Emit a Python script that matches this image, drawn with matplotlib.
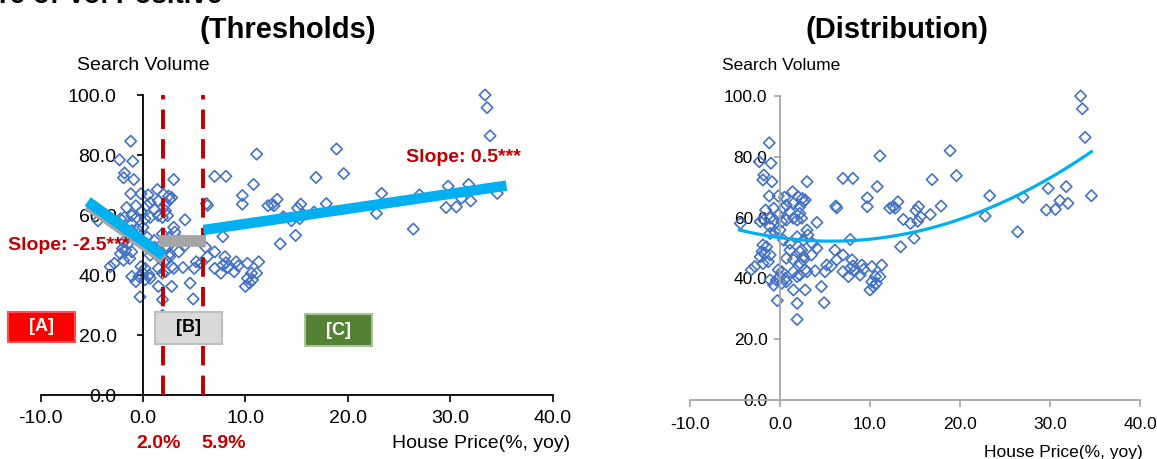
import numpy as np
import matplotlib
matplotlib.use("Agg")
import matplotlib.pyplot as plt
from matplotlib.patches import Rectangle

plt.rcParams['font.family'] = ['Liberation Sans', 'DejaVu Sans']

## Data ##

# house price growth (%, yoy) vs search volume
price = [33.4, 33.6, 33.9, 34.6, 31.8, 29.8, 31.1, 32.0, 30.6, 29.6, 27.0, 26.4, 23.3, 22.8,
         18.9, 19.6, 16.9, 17.9, 16.7, 15.4, 15.1, 15.6, 15.3, 14.5, 13.7, 13.1, 12.8, 12.6,
         14.9, 13.4,
         11.1, 7.0, 8.1, 3.0, 10.8, 9.7, 9.7, 6.2, 6.3, 12.2, 7.8, 4.1, 2.5, 2.6, 2.4, 3.0,
         3.1, 2.6, 3.6, 4.1, 2.4, 3.5, 2.6, 6.1, 7.0, 5.2, 5.7, 5.0, 3.9, 3.0, 6.3, 8.0, 8.1,
         7.8, 9.1, 9.3, 8.9, 10.2, 11.3, 10.6, 11.1, 10.2, 10.4, 10.0, 10.7, 7.6, 7.0, 8.3,
         4.6, 4.9,
         -1.2, -2.3, -1.0, -1.8, -1.9, -0.9, -1.2, -0.2, 0.5, 1.4, 2.0, 2.8, 0.7, 1.5, 2.2,
         -0.7, -1.6, -0.2, -1.1, -1.8, -2.2, -4.4, 0.4, 1.1, 0.7, 1.5, 2.2, 1.9, -0.6, 0.2,
         -1.1,
         -1.1, -0.6, 0.0, -1.9, -1.5, -2.0, -1.7, -2.2, -1.3, -1.9, -1.1, -2.8, -3.2, 0.4,
         1.1, 1.9, 1.1, 2.2, 0.7, 1.5, 2.6, 2.2, -0.2, 0.2, 0.0, 0.6, -0.4, 0.2, 0.7, -1.1,
         -0.7, 1.5, 1.9, 2.2, 2.8, 1.5, 2.8, 1.9, -0.3, 1.9]
search = [100.0, 95.8, 86.4, 67.2, 70.2, 69.6, 65.6, 64.7, 62.7, 62.5, 66.7, 55.3, 67.2, 60.5,
          82.0, 73.8, 72.5, 63.8, 61.0, 63.6, 62.3, 60.3, 58.8, 58.1, 59.4, 65.2, 63.1, 63.6,
          53.2, 50.4,
          80.3, 72.9, 72.9, 71.8, 70.2, 66.5, 63.6, 63.8, 63.2, 63.1, 52.8, 58.4, 66.3, 65.2,
          59.8, 55.9, 54.3, 52.6, 51.5, 49.9, 49.3, 47.7, 46.1, 49.3, 47.7, 44.4, 44.1, 42.2,
          42.5, 42.2, 46.1, 46.1, 44.1, 43.3, 44.4, 43.0, 41.1, 43.9, 44.4, 40.6, 40.6, 38.9,
          37.3, 36.2, 38.4, 40.6, 42.2, 42.5, 37.3, 32.0,
          84.6, 78.4, 77.9, 74.0, 72.4, 71.8, 67.1, 67.1, 66.7, 68.5, 66.9, 65.8, 64.1, 64.7,
          63.6, 63.1, 62.5, 60.9, 59.8, 59.2, 58.7, 58.1, 63.1, 61.9, 59.2, 59.8, 61.4, 59.2,
          59.2, 58.7, 57.0,
          54.8, 55.4, 55.9, 51.0, 50.4, 48.8, 48.3, 47.1, 45.5, 44.9, 47.7, 43.9, 42.8, 52.6,
          51.5, 53.7, 49.3, 48.8, 46.6, 46.1, 47.1, 45.0, 42.8, 42.2, 40.6, 40.0, 39.5, 38.4,
          38.9, 39.5, 37.8, 42.2, 40.6, 41.1, 42.8, 36.2, 36.2, 31.8, 32.7, 26.5]

# threshold regression pieces (left panel)
thresholds = [2.0, 5.9]
threshold_labels = ['2.0%', '5.9%']
segA_x, segA_y = [-5.4, 2.0], [64.5, 46.5]
segB_x, segB_y = [1.6, 6.2], [51.5, 51.5]
segC_x, segC_y = [5.9, 35.5], [55.0, 69.8]

# points (right panel)
trend_x = [-4.5, 0.0, 3.3, 7.8, 12.2, 14.4, 22.8, 27.0, 34.6]
trend_y = [55.4, 53.8, 52.8, 52.6, 53.7, 54.6, 62.5, 68.0, 81.9]

x_ticks = [-10, 0, 10, 20, 30, 40]
y_ticks = [0, 20, 40, 60, 80, 100]

## Figure ##

W, H = 1157, 459
fig = plt.figure(figsize=(W / 100, H / 100), dpi=100)


def fx(px):
    return px / W


def fy(py):
    return 1 - py / H


def setup_axis(ax, spine_col, fs, ypad, xpad):
    ax.set_xlim(-10, 40)
    ax.set_ylim(0, 100)
    ax.set_xticks(x_ticks)
    ax.set_yticks(y_ticks)
    ax.set_xticklabels(['%.1f' % v for v in x_ticks])
    ax.set_yticklabels(['%.1f' % v for v in y_ticks])
    ax.patch.set_visible(False)
    ax.spines['top'].set_visible(False)
    ax.spines['right'].set_visible(False)
    ax.spines['left'].set_position(('data', 0))
    for s in ['left', 'bottom']:
        ax.spines[s].set_color(spine_col)
        ax.spines[s].set_linewidth(1.3)
    ax.tick_params(axis='y', direction='out', length=4, width=1.2, color=spine_col,
                   pad=ypad, labelsize=fs)
    ax.tick_params(axis='x', direction='out', length=5, width=1.2, color=spine_col,
                   pad=xpad, labelsize=fs)


# left panel: thresholds
axL = fig.add_axes([fx(40.6), fy(395), 512 / W, 300 / H])
setup_axis(axL, 'black', 14, 15, 6)

axL.scatter(price, search, marker='D', s=5.8 ** 2, facecolors='none',
            edgecolors='#4472C4', linewidths=1.2, clip_on=False, zorder=2)

for t in thresholds:
    axL.plot([t, t], [0, 100], color='#C00000', lw=2.8, dashes=(5, 2.6), zorder=3,
             clip_on=False)

axL.plot(segA_x, [v - 1.3 for v in segA_y], color='#A5A5A5', lw=7.5,
         solid_capstyle='butt', zorder=4)
axL.plot(segB_x, segB_y, color='#A5A5A5', lw=8.5, solid_capstyle='butt', zorder=4)
axL.plot(segA_x, segA_y, color='#00B0F0', lw=7.5, solid_capstyle='butt', zorder=5)
axL.plot(segC_x, segC_y, color='#00B0F0', lw=7.5, solid_capstyle='butt', zorder=5)

axL.text(-13.2, 50.0, 'Slope: -2.5***', color='#C00000', fontsize=14, weight='bold',
         va='center', ha='left', zorder=6, clip_on=False)
axL.text(25.7, 79.0, 'Slope: 0.5***', color='#C00000', fontsize=14, weight='bold',
         va='center', ha='left', zorder=6, clip_on=False)

# regime boxes
for (x0, x1, y0, y1, fc, ec, tc, lab) in [
        (-13.2, -6.6, 17.7, 27.7, '#FF0000', '#FF5050', 'white', '[A]'),
        (1.2, 7.7, 17.0, 27.7, '#D9D9D9', '#BFBFBF', 'black', '[B]'),
        (15.8, 22.4, 16.3, 27.0, '#548235', '#A9C49A', 'white', '[C]')]:
    axL.add_patch(Rectangle((x0, y0), x1 - x0, y1 - y0, facecolor=fc, edgecolor=ec,
                            lw=1.5, zorder=7, clip_on=False))
    axL.text((x0 + x1) / 2, (y0 + y1) / 2, lab, color=tc, fontsize=13, weight='bold',
             ha='center', va='center', zorder=8, clip_on=False)

fig.text(fx(159), fy(443), threshold_labels[0], color='#C00000', fontsize=14,
         weight='bold', ha='center', va='center')
fig.text(fx(224), fy(443), threshold_labels[1], color='#C00000', fontsize=14,
         weight='bold', ha='center', va='center')
fig.text(fx(570), fy(443), 'House Price(%, yoy)', fontsize=14, ha='right', va='center')
fig.text(fx(77), fy(66), 'Search Volume', fontsize=14, ha='left', va='center')
fig.text(fx(288), fy(30), '(Thresholds)', fontsize=21, weight='bold',
         ha='center', va='center')
# heading cut off at the top edge, as in the reference
fig.text(fx(222), fy(3), 'Share of Vol Positive', fontsize=20, weight='bold',
         ha='right', va='baseline')

# right panel: distribution
axR = fig.add_axes([fx(690), fy(400), 450 / W, 304 / H])
setup_axis(axR, '#A6A6A6', 12.5, 5, 7)

axR.scatter(price, search, marker='D', s=5.8 ** 2, facecolors='none',
            edgecolors='#4472C4', linewidths=1.2, clip_on=False, zorder=2)

coef = np.polyfit(trend_x, trend_y, 2)
xs = np.linspace(min(trend_x), max(trend_x), 200)
axR.plot(xs, np.polyval(coef, xs), color='#00B0F0', lw=2.3, zorder=3)

fig.text(fx(722), fy(66), 'Search Volume', fontsize=12.5, ha='left', va='center')
fig.text(fx(1143), fy(452), 'House Price(%, yoy)', fontsize=12.5, ha='right', va='center')
fig.text(fx(897), fy(30), '(Distribution)', fontsize=21, weight='bold',
         ha='center', va='center')

fig.savefig('out.png', dpi=100)
